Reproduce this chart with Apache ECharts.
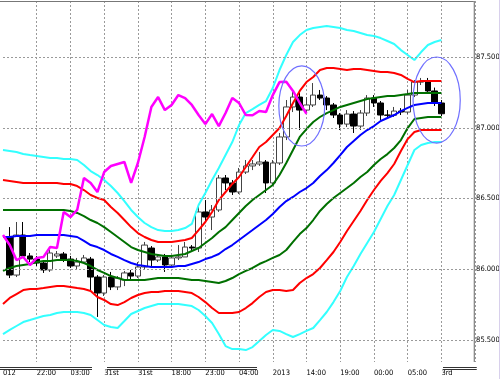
<!DOCTYPE html>
<html><head><meta charset="utf-8">
<script src="https://cdn.jsdelivr.net/npm/echarts@6/dist/echarts.min.js"></script>
<style>html,body{margin:0;padding:0;background:#fff}#c{width:500px;height:379px}</style>
</head><body><div id="c"></div>
<script>
// Hourly bars (65). Slot 0 of the axis is the bar just left of the frame.
const timeLabels = ['012','22:00','03:00','31st','31st','18:00','23:00','04:00','2013','14:00','19:00','00:00','05:00','3rd'];
const yTicks = [85.5, 86.0, 86.5, 87.0, 87.5];
const lastPrice = 87.099;

const opens = [86.228,85.959,86.242,86.094,86.072,86.044,85.995,86.094,86.108,86.072,86.023,86.051,86.072,85.945,85.832,85.945,85.875,85.924,85.974,85.952,86.016,86.150,86.065,86.087,86.030,86.080,86.087,86.157,86.150,86.405,86.369,86.419,86.645,86.610,86.546,86.687,86.730,86.744,86.758,86.610,86.751,86.935,87.147,87.217,87.125,87.161,87.231,87.210,87.161,87.090,87.026,87.097,87.012,87.104,87.210,87.175,87.090,87.088,87.118,87.111,87.231,87.323,87.325,87.260,87.175];
const closes = [85.959,86.242,86.094,86.072,86.044,85.995,86.115,86.108,86.072,86.023,86.051,86.080,85.945,85.832,85.945,85.875,85.938,85.974,85.952,86.016,86.171,86.065,86.087,86.030,86.080,86.087,86.157,86.150,86.405,86.369,86.419,86.645,86.610,86.546,86.687,86.730,86.744,86.758,86.610,86.751,86.935,87.147,87.217,87.125,87.161,87.231,87.210,87.161,87.090,87.026,87.097,87.012,87.104,87.210,87.175,87.090,87.088,87.118,87.111,87.231,87.323,87.325,87.260,87.175,87.099];
const highs = [86.298,86.334,86.334,86.115,86.094,86.058,86.136,86.129,86.122,86.094,86.080,86.101,86.087,85.959,85.959,85.981,85.952,85.988,85.995,86.051,86.193,86.164,86.101,86.108,86.101,86.171,86.193,86.171,86.454,86.489,86.454,86.666,86.666,86.631,86.716,86.772,86.772,86.829,86.772,86.772,86.963,87.196,87.267,87.246,87.217,87.316,87.267,87.224,87.175,87.104,87.125,87.118,87.125,87.231,87.231,87.189,87.125,87.147,87.139,87.267,87.337,87.352,87.352,87.284,87.196];
const lows = [85.938,85.945,86.080,86.051,86.023,85.974,85.981,86.080,86.051,86.009,86.002,86.044,85.853,85.663,85.811,85.853,85.853,85.881,85.931,85.938,85.995,86.023,86.051,85.981,86.023,86.065,86.087,86.122,86.122,86.334,86.277,86.405,86.560,86.525,86.532,86.673,86.701,86.730,86.539,86.588,86.737,86.913,87.111,86.984,87.111,87.147,87.196,87.125,87.069,86.984,87.005,86.963,86.984,87.083,87.147,87.055,87.062,87.076,87.090,87.097,87.217,87.302,87.253,87.154,87.083];

// Band lines (66 values: slot 0 + 65 bars)
const mid = [86.228,86.228,86.235,86.235,86.235,86.242,86.242,86.242,86.242,86.242,86.235,86.228,86.200,86.171,86.157,86.136,86.108,86.087,86.065,86.044,86.030,86.023,86.016,86.016,86.016,86.016,86.023,86.023,86.037,86.051,86.072,86.087,86.108,86.143,86.171,86.207,86.242,86.277,86.313,86.348,86.391,86.440,86.482,86.511,86.546,86.574,86.610,86.659,86.701,86.751,86.807,86.864,86.906,86.949,86.984,87.012,87.048,87.069,87.090,87.118,87.140,87.161,87.168,87.175,87.175,87.175];
const up1 = [86.419,86.419,86.419,86.419,86.419,86.419,86.419,86.419,86.419,86.419,86.412,86.398,86.376,86.348,86.327,86.298,86.263,86.228,86.193,86.157,86.136,86.122,86.108,86.101,86.094,86.094,86.101,86.108,86.129,86.150,86.186,86.221,86.263,86.298,86.348,86.398,86.447,86.489,86.525,86.560,86.596,86.666,86.751,86.843,86.935,86.991,87.041,87.076,87.104,87.125,87.147,87.161,87.175,87.189,87.203,87.210,87.217,87.224,87.224,87.231,87.238,87.246,87.246,87.246,87.246,87.246];
const dn1 = [85.988,86.009,86.023,86.030,86.037,86.051,86.058,86.058,86.065,86.065,86.065,86.058,86.044,86.023,85.995,85.974,85.952,85.938,85.924,85.924,85.924,85.924,85.931,85.938,85.938,85.938,85.938,85.931,85.924,85.924,85.917,85.910,85.903,85.917,85.938,85.966,85.988,86.009,86.037,86.058,86.080,86.101,86.136,86.193,86.249,86.291,86.348,86.412,86.461,86.504,86.539,86.574,86.610,86.652,86.687,86.737,86.779,86.814,86.857,86.913,86.998,87.062,87.069,87.076,87.076,87.076];
const up2 = [86.631,86.624,86.617,86.610,86.610,86.610,86.610,86.610,86.610,86.603,86.603,86.588,86.560,86.525,86.504,86.489,86.440,86.398,86.348,86.298,86.256,86.228,86.207,86.193,86.193,86.193,86.200,86.207,86.221,86.277,86.334,86.405,86.489,86.546,86.603,86.652,86.723,86.793,86.864,86.899,86.949,86.998,87.083,87.175,87.260,87.323,87.359,87.408,87.422,87.422,87.415,87.408,87.415,87.415,87.408,87.401,87.394,87.394,87.387,87.373,87.345,87.323,87.330,87.330,87.330,87.330];
const dn2 = [85.754,85.797,85.825,85.853,85.860,85.860,85.867,85.875,85.882,85.882,85.875,85.867,85.860,85.846,85.804,85.783,85.754,85.747,85.768,85.797,85.818,85.832,85.839,85.839,85.846,85.846,85.846,85.839,85.832,85.804,85.768,85.726,85.691,85.691,85.691,85.698,85.726,85.761,85.804,85.839,85.853,85.853,85.846,85.853,85.903,85.938,85.966,86.009,86.065,86.122,86.193,86.270,86.341,86.412,86.489,86.560,86.624,86.680,86.744,86.836,86.920,86.970,86.984,86.984,86.984,86.984];
const up3 = [86.843,86.836,86.829,86.815,86.807,86.800,86.793,86.786,86.786,86.779,86.779,86.772,86.737,86.694,86.666,86.631,86.588,86.539,86.482,86.419,86.369,86.327,86.298,86.277,86.270,86.270,86.277,86.291,86.320,86.454,86.539,86.631,86.716,86.807,86.899,87.019,87.104,87.132,87.161,87.189,87.281,87.408,87.514,87.606,87.655,87.691,87.705,87.712,87.719,87.712,87.705,87.691,87.684,87.670,87.655,87.648,87.634,87.613,87.592,87.549,87.514,87.479,87.535,87.585,87.606,87.620];
const dn3 = [85.542,85.571,85.599,85.627,85.641,85.656,85.670,85.677,85.691,85.698,85.698,85.698,85.691,85.677,85.641,85.606,85.592,85.585,85.634,85.684,85.705,85.726,85.740,85.754,85.754,85.754,85.754,85.747,85.740,85.712,85.670,85.620,85.542,85.457,85.436,85.436,85.429,85.450,85.493,85.535,85.571,85.564,85.542,85.521,85.542,85.564,85.585,85.641,85.698,85.768,85.846,85.945,86.023,86.108,86.186,86.263,86.355,86.447,86.525,86.631,86.737,86.843,86.878,86.892,86.899,86.899];
// Lagging span (46 values: slot 0 + 45 bars)
const lagging = [86.242,86.171,86.065,86.087,86.030,86.080,86.087,86.157,86.150,86.405,86.369,86.419,86.645,86.610,86.546,86.687,86.730,86.744,86.758,86.610,86.751,86.935,87.147,87.217,87.125,87.161,87.231,87.210,87.161,87.090,87.026,87.097,87.012,87.104,87.210,87.175,87.090,87.088,87.118,87.111,87.231,87.323,87.325,87.260,87.175,87.099];

// Highlight ellipses: centre in bar units, price top/bottom, half-width in bars
const ellipses = [
  {center: 43.3, top: 87.437, bottom: 86.871, halfWidth: 3.4},
  {center: 63.3, top: 87.500, bottom: 86.892, halfWidth: 3.5}
];

const SLOTS = 71;
const cats = [];
for (let k = 0; k < SLOTS; k++) cats.push(k % 5 === 0 && timeLabels[k / 5] !== undefined ? timeLabels[k / 5] : '');

const FONT = "'Liberation Sans Narrow','DejaVu Sans Condensed','Liberation Sans',sans-serif";
const candleData = ['-'].concat(opens.map((o, i) => [o, closes[i], lows[i], highs[i]]));

function band(name, data, color) {
  return {type: 'line', name, data, symbol: 'none', showSymbol: false, silent: true, z: 3,
    lineStyle: {color, width: 2}, itemStyle: {color}};
}

const chart = echarts.init(document.getElementById('c'), null, {renderer: 'canvas'});
chart.setOption({
  animation: false,
  backgroundColor: '#ffffff',
  grid: {left: -2.09, right: 24.9, top: 1, bottom: 17, containLabel: false},
  xAxis: {
    type: 'category', data: cats, boundaryGap: false,
    axisLine: {show: false}, axisTick: {show: false},
    axisLabel: {interval: (i) => i % 5 === 0, align: 'left', margin: 7, color: '#000',
      fontSize: 7.5, fontFamily: FONT, showMinLabel: true, showMaxLabel: true},
    splitLine: {show: true, interval: (i) => i % 5 === 0 && i > 0,
      lineStyle: {color: '#9a9a9a', type: [2, 2], width: 1}}
  },
  yAxis: {
    type: 'value', position: 'right', min: 85.3446, max: 87.8958, scale: true,
    axisLine: {show: false}, axisTick: {show: false}, axisLabel: {show: false}, splitLine: {show: false}
  },
  series: [
    {
      type: 'candlestick', data: candleData, barWidth: 6, z: 2,
      itemStyle: {color: '#ffffff', color0: '#000000', borderColor: '#444444', borderColor0: '#000000', borderWidth: 1},
      markLine: {
        silent: true, symbol: 'none', animation: false,
        lineStyle: {color: '#9a9a9a', type: [2, 2], width: 1},
        label: {position: 'end', distance: 1, color: '#000', fontSize: 7.5, fontFamily: FONT,
          formatter: (p) => Number(p.value).toFixed(3)},
        data: yTicks.map(v => ({yAxis: v})).concat([{
          yAxis: lastPrice, lineStyle: {opacity: 0},
          label: {backgroundColor: '#c8c8c8', padding: [0, 1, 0, 1]}
        }])
      }
    },
    band('+3σ', up3, '#33ffff'),
    band('-3σ', dn3, '#33ffff'),
    band('+2σ', up2, '#ff0000'),
    band('-2σ', dn2, '#ff0000'),
    band('+1σ', up1, '#007000'),
    band('-1σ', dn1, '#007000'),
    band('mid', mid, '#0000ff'),
    Object.assign(band('lag', lagging, '#ff00ff'), {z: 4, lineStyle: {color: '#ff00ff', width: 2.5}})
  ]
});

// Decorations: frame and annotation ellipses
const x0 = chart.convertToPixel({xAxisIndex: 0}, 1);
const step = chart.convertToPixel({xAxisIndex: 0}, 2) - x0;
const gTop = chart.convertToPixel({yAxisIndex: 0}, 87.8958);
const gBot = chart.convertToPixel({yAxisIndex: 0}, 85.3446);
const gRight = x0 + step * 64 + step * 4.8;
const graphics = [
  {type: 'line', shape: {x1: 0, y1: gTop + 0.5, x2: gRight, y2: gTop + 0.5}, style: {stroke: '#777', lineWidth: 1}, z: 50, silent: true},
  {type: 'line', shape: {x1: gRight + 0.5, y1: gTop, x2: gRight + 0.5, y2: gBot}, style: {stroke: '#666', lineWidth: 1}, z: 50, silent: true},
  {type: 'line', shape: {x1: 499.5, y1: 0, x2: 499.5, y2: 379}, style: {stroke: '#d8d0ec', lineWidth: 1}, z: 50, silent: true}
];
[[0, 92], [107, 257], [443, gRight + 3]].forEach(([a, b]) => {
  [gBot + 5.5, gBot + 7.5].forEach(y => graphics.push({type: 'line', shape: {x1: a, y1: y, x2: b, y2: y}, style: {stroke: '#333', lineWidth: 1}, z: 50, silent: true}));
});
ellipses.forEach(e => {
  const yt = chart.convertToPixel({yAxisIndex: 0}, e.top);
  const yb = chart.convertToPixel({yAxisIndex: 0}, e.bottom);
  graphics.push({type: 'ellipse', shape: {cx: x0 + step * e.center, cy: (yt + yb) / 2, rx: step * e.halfWidth, ry: (yb - yt) / 2},
    style: {fill: 'none', stroke: '#7070ff', lineWidth: 1.2}, z: 60, silent: true});
});
chart.setOption({graphic: graphics});
</script>
</body></html>
